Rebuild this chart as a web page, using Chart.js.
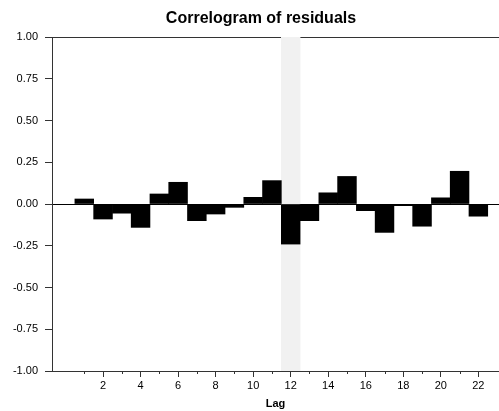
<!DOCTYPE html>
<html>
<head>
<meta charset="utf-8">
<script src="https://cdn.jsdelivr.net/npm/chart.js@4"></script>
<style>
  html, body { margin: 0; padding: 0; background: #fff; }
  #wrap { width: 499px; height: 411px; }
</style>
</head>
<body>
<div id="wrap"><canvas id="acf"></canvas></div>
<script>
const lags = [1, 2, 3, 4, 5, 6, 7, 8, 9, 10, 11, 12, 13, 14, 15, 16, 17, 18, 19, 20, 21, 22];
const acf = [0.03, -0.09, -0.055, -0.14, 0.06, 0.13, -0.10, -0.06, -0.02, 0.04, 0.14,
             -0.24, -0.10, 0.067, 0.165, -0.04, -0.17, -0.01, -0.133, 0.037, 0.196, -0.073];
const yTicks = [-1, -0.75, -0.5, -0.25, 0, 0.25, 0.5, 0.75, 1];
const highlightLag = 12;

const FONT = "'Liberation Sans', Arial, sans-serif";
const AXIS = '#333';

// title drawn by hand so it can sit a bit right of the canvas centre
const titlePlugin = {
    id: 'plotTitle',
    afterDraw(chart) {
        const c = chart.ctx;
        c.save();
        c.font = 'bold 16px ' + FONT;
        c.fillStyle = '#000';
        c.textAlign = 'center';
        c.textBaseline = 'middle';
        c.fillText('Correlogram of residuals', 261, 19);
        c.restore();
    }
};

// short tick marks at the odd lags
const minorTicks = {
    id: 'minorTicks',
    afterDraw(chart) {
        const x = chart.scales.x, c = chart.ctx;
        const y0 = chart.chartArea.bottom;
        c.save();
        c.strokeStyle = AXIS;
        c.lineWidth = 1;
        c.beginPath();
        lags.filter(l => l % 2 === 1).forEach(l => {
            const px = Math.round(x.getPixelForValue(l)) + 0.5;
            c.moveTo(px, y0);
            c.lineTo(px, y0 + 3);
        });
        c.stroke();
        c.restore();
    }
};

new Chart(document.getElementById('acf').getContext('2d'), {
    type: 'bar',
    data: {
        datasets: [{
            label: 'ACF',
            data: lags.map((l, i) => ({ x: l, y: acf[i] })),
            backgroundColor: '#000',
            borderWidth: 0,
            barPercentage: 1,
            categoryPercentage: 1,
            grouped: false,
            order: 1
        }, {
            label: 'highlight',
            data: [{ x: highlightLag, y: [-1, 1] }],
            backgroundColor: '#f1f1f1',
            borderWidth: 0,
            barPercentage: 1,
            categoryPercentage: 1,
            grouped: false,
            order: 2
        }]
    },
    options: {
        responsive: true,
        maintainAspectRatio: false,
        animation: false,
        layout: { padding: { top: 37, right: 0, left: 0, bottom: 0 } },
        plugins: {
            legend: { display: false },
            tooltip: { enabled: false },
            title: { display: false }
        },
        scales: {
            x: {
                type: 'linear',
                offset: false,
                min: -0.72,
                max: 23.1,
                z: 1,
                afterBuildTicks: axis => { axis.ticks = lags.map(v => ({ value: v })); },
                afterFit: axis => { axis.height = 40; },
                grid: {
                    offset: false,
                    drawOnChartArea: false,
                    tickLength: 6,
                    tickColor: ctx => (ctx.tick && ctx.tick.value % 2 === 0) ? AXIS : 'rgba(0,0,0,0)'
                },
                border: { color: AXIS },
                ticks: {
                    autoSkip: false,
                    maxRotation: 0,
                    padding: 2,
                    color: '#000',
                    font: { family: FONT, size: 11 },
                    callback: v => (v % 2 === 0 ? String(v) : '')
                },
                title: {
                    display: true,
                    text: 'Lag',
                    color: '#000',
                    font: { family: FONT, size: 11, weight: 'bold' },
                    padding: { top: 0, bottom: 0 }
                }
            },
            y: {
                min: -1,
                max: 1,
                z: 1,
                afterBuildTicks: axis => { axis.ticks = yTicks.map(v => ({ value: v })); },
                afterFit: axis => { axis.width = 52; },
                grid: {
                    tickLength: 7,
                    tickColor: AXIS,
                    color: ctx => (ctx.tick && [-1, 0, 1].includes(ctx.tick.value)) ? (ctx.tick.value === 0 ? '#000' : AXIS) : 'rgba(0,0,0,0)'
                },
                border: { color: AXIS },
                ticks: {
                    padding: 7,
                    color: '#000',
                    font: { family: FONT, size: 11 },
                    callback: v => v.toFixed(2)
                }
            }
        }
    },
    plugins: [titlePlugin, minorTicks]
});
</script>
</body>
</html>
